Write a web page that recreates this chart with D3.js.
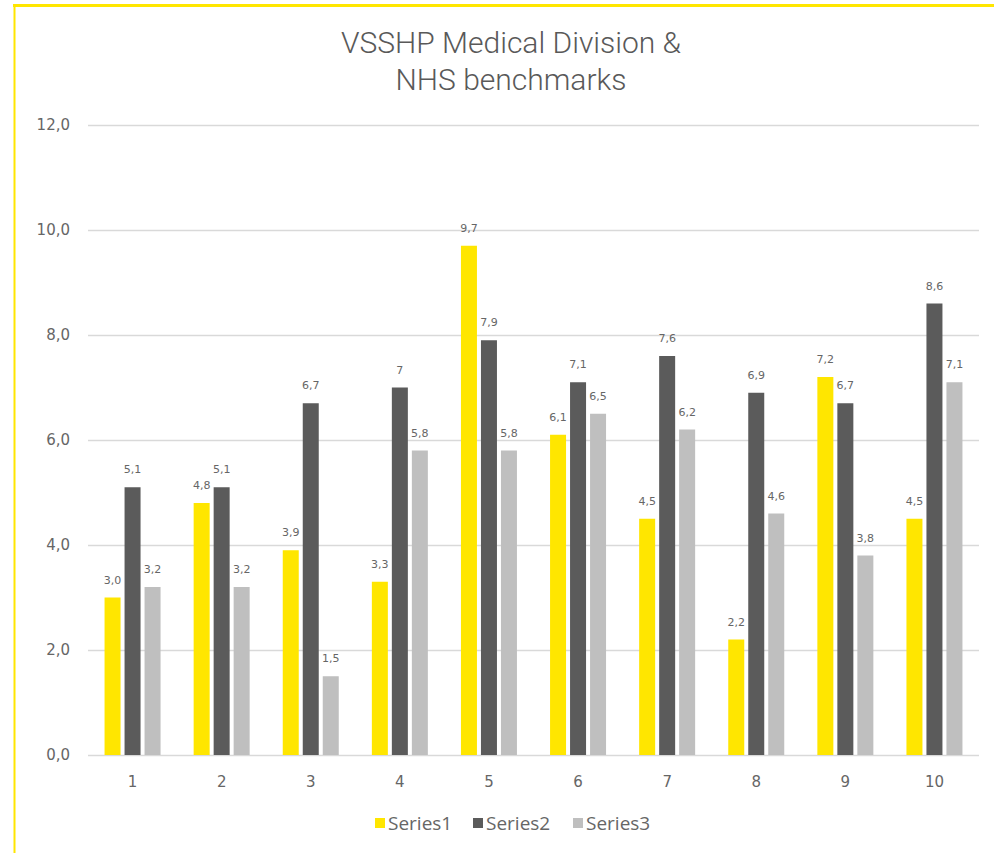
<!DOCTYPE html>
<html>
<head>
<meta charset="utf-8">
<script src="https://cdn.jsdelivr.net/npm/d3@7"></script>
<style>
  html, body { margin: 0; padding: 0; background: #fff; }
  svg { display: block; }
</style>
</head>
<body>
<svg id="chart" width="994" height="853"></svg>
<script>
const categories = ["1", "2", "3", "4", "5", "6", "7", "8", "9", "10"];
const seriesNames = ["Series1", "Series2", "Series3"];
const series1 = [3.0, 4.8, 3.9, 3.3, 9.7, 6.1, 4.5, 2.2, 7.2, 4.5];
const series2 = [5.1, 5.1, 6.7, 7.0, 7.9, 7.1, 7.6, 6.9, 6.7, 8.6];
const series3 = [3.2, 3.2, 1.5, 5.8, 5.8, 6.5, 6.2, 4.6, 3.8, 7.1];
const labels1 = ["3,0", "4,8", "3,9", "3,3", "9,7", "6,1", "4,5", "2,2", "7,2", "4,5"];
const labels2 = ["5,1", "5,1", "6,7", "7", "7,9", "7,1", "7,6", "6,9", "6,7", "8,6"];
const labels3 = ["3,2", "3,2", "1,5", "5,8", "5,8", "6,5", "6,2", "4,6", "3,8", "7,1"];
const yTicks = [0, 2, 4, 6, 8, 10, 12];
const yTickLabels = ["0,0", "2,0", "4,0", "6,0", "8,0", "10,0", "12,0"];
const titleLines = ["VSSHP Medical Division &", "NHS benchmarks"];
const colors = ["#FFE600", "#5B5B5B", "#BFBFBF"];

const seriesValues = [series1, series2, series3];
const seriesLabels = [labels1, labels2, labels3];

const svg = d3.select("#chart");

// Border (top and left yellow lines)
svg.append("line").attr("x1", 13).attr("x2", 994).attr("y1", 5.5).attr("y2", 5.5)
  .attr("stroke", "#FFE600").attr("stroke-width", 3);
svg.append("line").attr("x1", 14.5).attr("x2", 14.5).attr("y1", 4).attr("y2", 853)
  .attr("stroke", "#FFE600").attr("stroke-width", 2);

// Title
svg.append("g").selectAll("text").data(titleLines).join("text")
  .attr("x", 511).attr("y", (d, i) => 53 + i * 37)
  .attr("text-anchor", "middle")
  .attr("font-family", "Roboto, sans-serif")
  .attr("font-weight", 300)
  .attr("font-size", 30)
  .attr("fill", "#595959")
  .text(d => d);

const x0 = d3.scaleBand().domain(categories).range([88, 979]).paddingInner(0).paddingOuter(0);
const groupW = 56;
const x1 = d3.scaleBand().domain(seriesNames).range([0, groupW]).paddingInner(0.2).paddingOuter(0);
const y = d3.scaleLinear().domain([0, 12]).range([755, 125]);

// Grid lines
svg.append("g").selectAll("line").data(yTicks).join("line")
  .attr("x1", 88).attr("x2", 979)
  .attr("y1", d => Math.round(y(d)) + 0.5).attr("y2", d => Math.round(y(d)) + 0.5)
  .attr("stroke", "#D9D9D9").attr("stroke-width", 1.5);

// Y tick labels
svg.append("g").selectAll("text").data(yTicks).join("text")
  .attr("x", 70).attr("y", d => y(d))
  .attr("dy", "0.35em")
  .attr("text-anchor", "end")
  .attr("font-family", "DejaVu Sans, sans-serif")
  .attr("font-size", 15)
  .attr("fill", "#666")
  .text((d, i) => yTickLabels[i]);

// X tick labels
const xAxis = d3.axisBottom(x0).tickSize(0).tickPadding(0);
const xg = svg.append("g").attr("transform", "translate(0,755)").call(xAxis);
xg.select(".domain").remove();
xg.selectAll("text")
  .attr("y", 27)
  .attr("dy", "0.35em")
  .attr("font-family", "DejaVu Sans, sans-serif")
  .attr("font-size", 15)
  .attr("fill", "#666");

// Bars
const off = (x0.bandwidth() - groupW) / 2;
seriesNames.forEach((s, si) => {
  const g = svg.append("g");
  g.selectAll("rect").data(seriesValues[si]).join("rect")
    .attr("x", (d, i) => x0(categories[i]) + off + x1(s))
    .attr("y", d => y(d))
    .attr("width", x1.bandwidth())
    .attr("height", d => y(0) - y(d))
    .attr("fill", colors[si]);
  g.selectAll("text").data(seriesValues[si]).join("text")
    .attr("x", (d, i) => x0(categories[i]) + off + x1(s) + x1.bandwidth() / 2)
    .attr("y", d => y(d) - 14)
    .attr("text-anchor", "middle")
    .attr("font-family", "DejaVu Sans, sans-serif")
    .attr("font-size", 11)
    .attr("fill", "#666")
    .text((d, i) => seriesLabels[si][i]);
});

// Legend
const legendX = [375, 473, 573];
const lg = svg.append("g");
seriesNames.forEach((s, si) => {
  lg.append("rect").attr("x", legendX[si]).attr("y", 818).attr("width", 10).attr("height", 10)
    .attr("fill", colors[si]);
  lg.append("text").attr("x", legendX[si] + 13).attr("y", 823)
    .attr("dy", "0.35em")
    .attr("font-family", "Open Sans, sans-serif")
    .attr("font-size", 19)
    .attr("fill", "#666")
    .text(s);
});
</script>
</body>
</html>
